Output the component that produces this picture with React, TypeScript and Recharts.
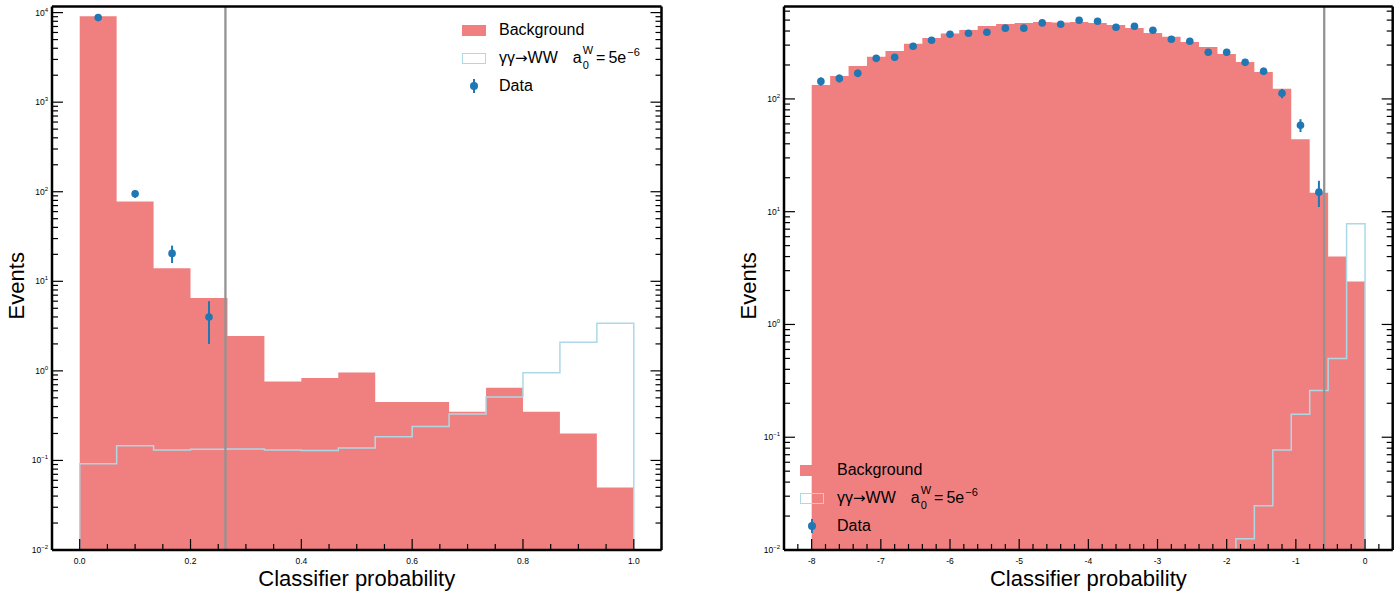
import { ComposedChart, Area, Line, Scatter, ErrorBar, XAxis, YAxis, ReferenceLine, Legend } from "recharts"

const FONT = "'Liberation Sans', Arial, Helvetica, sans-serif"
const BG_COLOR = "#f08080"
const SIG_COLOR = "#add8e6"
const DATA_COLOR = "#1f77b4"
const CUT_COLOR = "#939393"

// left panel: classifier probability, 15 bins on [0, 1]
const leftRange = [0, 1]
const leftBackground = [9100, 78, 14, 6.5, 2.45, 0.76, 0.835, 0.96, 0.45, 0.45, 0.35, 0.65, 0.35, 0.2, 0.05]
const leftSignal = [0.092, 0.146, 0.131, 0.133, 0.134, 0.131, 0.129, 0.138, 0.184, 0.24, 0.33, 0.51, 0.95, 2.09, 3.4]
const leftData = [8800, 95, 20.5, 4.0]
const leftDataErr = [94, 9.7, 4.5, 2.0]
const leftCut = 0.263
const leftXMajor = [0, 0.2, 0.4, 0.6, 0.8, 1.0]
const leftXDomain = [-0.05, 1.05]
const leftYDomain = [0.01, 11700]

// right panel: 30 bins on [-8, 0]
const rightRange = [-8, 0]
const rightBackground = [
  133, 160, 196, 236, 266, 309, 347, 380, 409, 444, 462, 472, 482, 475, 482,
  472, 453, 426, 385, 355, 320, 289, 250, 213, 173, 123, 44, 14.7, 4.0, 2.41,
]
const rightSignal = [
  null, null, null, null, null, null, null, null, null, null, null, null, null, null, null,
  null, null, null, null, null, null, null, null, 0.0126, 0.0247, 0.077, 0.16, 0.26, 0.5, 7.8,
]
const rightData = [
  143, 152, 169, 229, 234, 293, 331, 374, 382, 390, 424, 424, 472, 459,
  499, 489, 432, 441, 406, 338, 325, 259, 259, 211, 176, 112, 58.5, 14.9,
]
const rightDataErr = [
  12, 12.3, 13, 15.1, 15.3, 17.1, 18.2, 19.3, 19.5, 19.7, 20.6, 20.6, 21.7, 21.4,
  22.3, 22.1, 20.8, 21, 20.1, 18.4, 18, 16.1, 16.1, 14.5, 13.3, 10.6, 7.6, 3.9,
]
const rightCut = -0.59
const rightXMajor = [-8, -7, -6, -5, -4, -3, -2, -1, 0]
const rightXDomain = [-8.4, 0.4]
const rightYDomain = [0.01, 660]

function binEdges(range: number[], n: number) {
  const [lo, hi] = range
  return Array.from({ length: n + 1 }, (_, i) => lo + ((hi - lo) * i) / n)
}

function stepFill(edges: number[], vals: number[]) {
  const pts = vals.map((v, i) => ({ x: edges[i], v }))
  pts.push({ x: edges[vals.length], v: vals[vals.length - 1] })
  return pts
}

function stepOutline(edges: number[], vals: (number | null)[], base: number) {
  const idx = vals.map((v, i) => (v == null ? -1 : i)).filter((i) => i >= 0)
  const first = idx[0]
  const last = idx[idx.length - 1]
  const pts = [{ x: edges[first], v: base }]
  for (let i = first; i <= last; i++) pts.push({ x: edges[i], v: vals[i] as number })
  pts.push({ x: edges[last + 1], v: vals[last] as number })
  pts.push({ x: edges[last + 1], v: base })
  return pts
}

function dataPoints(edges: number[], vals: number[], errs: number[]) {
  return vals.map((v, i) => ({ x: (edges[i] + edges[i + 1]) / 2, y: v, err: errs[i] }))
}

function linTicks(domain: number[], step: number) {
  const out: number[] = []
  for (let k = Math.ceil(domain[0] / step - 1e-9); k <= Math.floor(domain[1] / step + 1e-9); k++) {
    const v = Math.round(k * step * 1e6) / 1e6
    if (v > domain[0] + 1e-9 && v < domain[1] - 1e-9) out.push(v)
  }
  return out
}

function logTicks(domain: number[]) {
  const out: number[] = []
  const e0 = Math.floor(Math.log10(domain[0]))
  const e1 = Math.floor(Math.log10(domain[1]))
  for (let e = e0; e <= e1; e++) {
    for (let m = 1; m <= 9; m++) {
      const v = m * Math.pow(10, e)
      if (v >= domain[0] && v <= domain[1]) out.push(v)
    }
  }
  return out
}

const isMajorX = (v: number, majors: number[]) => majors.some((m) => Math.abs(m - v) < 1e-6)
const isMajorLog = (v: number) => Math.abs(Math.log10(v) - Math.round(Math.log10(v))) < 1e-6
const supMinus = (n: number) => (n < 0 ? "\u2212" + Math.abs(n) : String(n))

const MAJOR = 11
const MINOR = 6

function bottomTick(majors: number[], fmt: (v: number) => string) {
  return (props: any) => {
    const { x, y, payload } = props
    const major = isMajorX(payload.value, majors)
    return (
      <g>
        <line x1={x} x2={x} y1={y} y2={y - (major ? MAJOR : MINOR)} stroke="#000" strokeWidth={1.2} />
        {major && (
          <text x={x} y={y + 14} textAnchor="middle" fontSize={8.5} fontFamily={FONT} fill="#000">
            {fmt(payload.value)}
          </text>
        )}
      </g>
    )
  }
}

function topTick(majors: number[]) {
  return (props: any) => {
    const { x, y, payload } = props
    const major = isMajorX(payload.value, majors)
    return <line x1={x} x2={x} y1={y} y2={y + (major ? MAJOR : MINOR)} stroke="#000" strokeWidth={1.2} />
  }
}

function leftTick(props: any) {
  const { x, y, payload } = props
  const major = isMajorLog(payload.value)
  const exp = Math.round(Math.log10(payload.value))
  return (
    <g>
      <line x1={x} x2={x + (major ? MAJOR : MINOR)} y1={y} y2={y} stroke="#000" strokeWidth={1.2} />
      {major && (
        <text x={x - 4} y={y + 3} textAnchor="end" fontSize={8.5} fontFamily={FONT} fill="#000">
          10
          <tspan dy={-4} fontSize={6}>
            {supMinus(exp)}
          </tspan>
        </text>
      )}
    </g>
  )
}

function rightTick(props: any) {
  const { x, y, payload } = props
  const major = isMajorLog(payload.value)
  return <line x1={x} x2={x - (major ? MAJOR : MINOR)} y1={y} y2={y} stroke="#000" strokeWidth={1.2} />
}

const frame = { stroke: "#000", strokeWidth: 2.5 }

function xTitle(props: any) {
  const vb = props.viewBox
  return (
    <text x={vb.x + vb.width / 2} y={vb.y + 35.5} textAnchor="middle" fontSize={22} fontFamily={FONT} fill="#000">
      Classifier probability
    </text>
  )
}

function yTitle(props: any) {
  const vb = props.viewBox
  const x = vb.x + vb.width - 28
  const y = vb.y + vb.height / 2 + 7.5
  return (
    <text x={x} y={y} transform={`rotate(-90, ${x}, ${y})`} textAnchor="middle" fontSize={22} fontFamily={FONT} fill="#000">
      Events
    </text>
  )
}

function LegendRows() {
  const row = { display: "flex", alignItems: "center", height: 28 } as const
  const text = { marginLeft: 13, whiteSpace: "nowrap" } as const
  return (
    <div style={{ fontFamily: FONT, fontSize: 16, color: "#000" }}>
      <div style={row}>
        <span style={{ display: "inline-block", width: 24, height: 11, background: BG_COLOR }} />
        <span style={text}>Background</span>
      </div>
      <div style={row}>
        <span
          style={{ display: "inline-block", width: 24, height: 11, border: `1.5px solid ${SIG_COLOR}`, boxSizing: "border-box" }}
        />
        <span style={{ ...text, display: "inline-flex", alignItems: "center" }}>
          <span>γγ</span>
          <span style={{ fontFamily: "'DejaVu Sans', sans-serif", fontSize: 15 }}>→</span>
          <span>WW</span>
          <span style={{ marginLeft: 15 }}>a</span>
          <span
            style={{ display: "inline-flex", flexDirection: "column", fontSize: 11, lineHeight: "10px", marginLeft: 1 }}
          >
            <span style={{ position: "relative", top: -3 }}>W</span>
            <span style={{ position: "relative", top: 2 }}>0</span>
          </span>
          <span style={{ margin: "0 3px" }}>=</span>
          <span>5e</span>
          <span style={{ fontSize: 11, position: "relative", top: -6, marginLeft: 1 }}>−6</span>
        </span>
      </div>
      <div style={row}>
        <svg width={24} height={28}>
          <line x1={12} x2={12} y1={7} y2={21} stroke={DATA_COLOR} strokeWidth={2} />
          <circle cx={12} cy={14} r={4} fill={DATA_COLOR} />
        </svg>
        <span style={text}>Data</span>
      </div>
    </div>
  )
}

const dot = (props: any) => <circle cx={props.cx} cy={props.cy} r={3.8} fill={DATA_COLOR} />

type PanelProps = {
  width: number
  margin: { top: number; right: number; bottom: number; left: number }
  edges: number[]
  background: number[]
  signal: (number | null)[]
  data: number[]
  dataErr: number[]
  cut: number
  xDomain: number[]
  yDomain: number[]
  xMajor: number[]
  xMinorStep: number
  fmt: (v: number) => string
  legendPos: { left: number; top: number }
}

function Panel(p: PanelProps) {
  const xTicks = [...p.xMajor, ...linTicks(p.xDomain, p.xMinorStep).filter((v) => !isMajorX(v, p.xMajor))].sort(
    (a, b) => a - b
  )
  const yTicks = logTicks(p.yDomain)
  const fill = stepFill(p.edges, p.background)
  const outline = stepOutline(p.edges, p.signal, p.yDomain[0])
  const pts = dataPoints(p.edges, p.data, p.dataErr)
  return (
    <ComposedChart width={p.width} height={598} margin={p.margin}>
      <Area
        data={fill}
        dataKey="v"
        type="stepAfter"
        fill={BG_COLOR}
        fillOpacity={1}
        stroke="none"
        baseValue={p.yDomain[0]}
        dot={false}
        activeDot={false}
        isAnimationActive={false}
      />
      <Line
        data={outline}
        dataKey="v"
        type="stepAfter"
        stroke={SIG_COLOR}
        strokeWidth={1.5}
        dot={false}
        activeDot={false}
        isAnimationActive={false}
      />
      <ReferenceLine x={p.cut} stroke={CUT_COLOR} strokeWidth={2.3} />
      <Scatter data={pts} dataKey="y" shape={dot} isAnimationActive={false}>
        <ErrorBar dataKey="err" direction="y" width={0} stroke={DATA_COLOR} strokeWidth={2} />
      </Scatter>
      <XAxis
        dataKey="x"
        type="number"
        domain={p.xDomain}
        allowDataOverflow
        ticks={xTicks}
        interval={0}
        height={30}
        tickSize={0}
        tickMargin={0}
        tickLine={false}
        axisLine={frame}
        tick={bottomTick(p.xMajor, p.fmt)}
        label={{ content: xTitle }}
      />
      <XAxis
        xAxisId="top"
        orientation="top"
        type="number"
        domain={p.xDomain}
        allowDataOverflow
        ticks={xTicks}
        interval={0}
        height={4}
        tickSize={0}
        tickMargin={0}
        tickLine={false}
        axisLine={frame}
        tick={topTick(p.xMajor)}
      />
      <YAxis
        type="number"
        scale="log"
        domain={p.yDomain}
        allowDataOverflow
        ticks={yTicks}
        interval={0}
        width={30}
        tickSize={0}
        tickMargin={0}
        tickLine={false}
        axisLine={frame}
        tick={leftTick}
        label={{ content: yTitle }}
      />
      <YAxis
        yAxisId="right"
        orientation="right"
        type="number"
        scale="log"
        domain={p.yDomain}
        allowDataOverflow
        ticks={yTicks}
        interval={0}
        width={6}
        tickSize={0}
        tickMargin={0}
        tickLine={false}
        axisLine={frame}
        tick={rightTick}
      />
      <Legend
        layout="vertical"
        align="center"
        verticalAlign="middle"
        content={() => <LegendRows />}
        wrapperStyle={{ left: p.legendPos.left, top: p.legendPos.top, width: 260, height: 84 }}
      />
    </ComposedChart>
  )
}

export default function App() {
  const leftEdges = binEdges(leftRange, leftBackground.length)
  const rightEdges = binEdges(rightRange, rightBackground.length)
  return (
    <div style={{ position: "absolute", left: 0, top: 0, width: 1399, height: 598, background: "#fff", fontFamily: FONT }}>
      <div style={{ position: "absolute", left: 0, top: 0 }}>
        <Panel
          width={700}
          margin={{ top: 2.5, right: 32.5, bottom: 18, left: 22 }}
          edges={leftEdges}
          background={leftBackground}
          signal={leftSignal}
          data={leftData}
          dataErr={leftDataErr}
          cut={leftCut}
          xDomain={leftXDomain}
          yDomain={leftYDomain}
          xMajor={leftXMajor}
          xMinorStep={0.05}
          fmt={(v) => v.toFixed(1)}
          legendPos={{ left: 462, top: 16 }}
        />
      </div>
      <div style={{ position: "absolute", left: 700, top: 0 }}>
        <Panel
          width={699}
          margin={{ top: 2.5, right: 0.3, bottom: 18, left: 54 }}
          edges={rightEdges}
          background={rightBackground}
          signal={rightSignal}
          data={rightData}
          dataErr={rightDataErr}
          cut={rightCut}
          xDomain={rightXDomain}
          yDomain={rightYDomain}
          xMajor={rightXMajor}
          xMinorStep={0.2}
          fmt={(v) => String(Math.round(v))}
          legendPos={{ left: 100, top: 456 }}
        />
      </div>
    </div>
  )
}
